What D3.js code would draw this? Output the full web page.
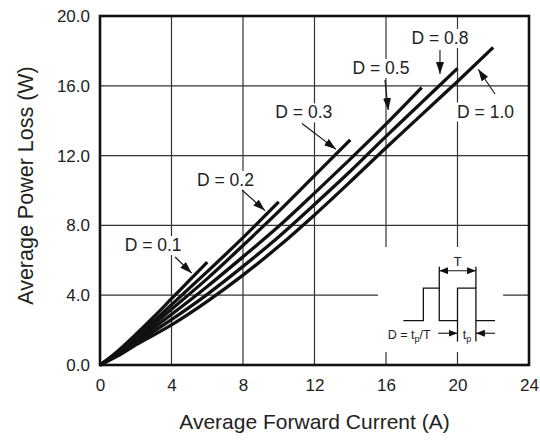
<!DOCTYPE html>
<html>
<head>
<meta charset="utf-8">
<script src="https://cdn.jsdelivr.net/npm/d3@7"></script>
<style>
  html, body { margin: 0; padding: 0; background: #fff; }
  svg { display: block; font-family: "Liberation Sans", Arial, Helvetica, sans-serif; }
</style>
</head>
<body>
<svg id="chart" width="540" height="440"></svg>
<script>
// ---------- data ----------
const dutyLabels = ["D = 0.1", "D = 0.2", "D = 0.3", "D = 0.5", "D = 0.8", "D = 1.0"];
const currentD01 = [0, 0.5, 1, 2, 3, 4, 5, 6];
const powerD01   = [0, 0.38, 0.8, 1.75, 2.75, 3.8, 4.85, 5.9];
const currentD02 = [0, 1, 2, 4, 6, 8, 10];
const powerD02   = [0, 0.72, 1.6, 3.45, 5.35, 7.3, 9.35];
const currentD03 = [0, 1, 2, 4, 6, 8, 10, 12, 14];
const powerD03   = [0, 0.68, 1.5, 3.2, 4.95, 6.85, 8.8, 10.85, 12.9];
const currentD05 = [0, 1, 2, 4, 6, 8, 10, 12, 14, 16, 18];
const powerD05   = [0, 0.62, 1.38, 2.9, 4.5, 6.2, 7.95, 9.85, 11.8, 13.8, 15.9];
const currentD08 = [0, 1, 2, 4, 6, 8, 10, 12, 14, 16, 18, 20];
const powerD08   = [0, 0.58, 1.27, 2.6, 4.05, 5.65, 7.35, 9.2, 11.1, 13.1, 15.05, 17.0];
const currentD10 = [0, 1, 2, 4, 6, 8, 10, 12, 14, 16, 18, 20, 22];
const powerD10   = [0, 0.52, 1.15, 2.3, 3.65, 5.15, 6.8, 8.6, 10.5, 12.45, 14.35, 16.25, 18.2];
const xTicks = [0, 4, 8, 12, 16, 20, 24];
const yTicks = [0, 4, 8, 12, 16, 20];
const xTitle = "Average Forward Current (A)";
const yTitle = "Average Power Loss (W)";

const series = [
  [currentD01, powerD01], [currentD02, powerD02], [currentD03, powerD03],
  [currentD05, powerD05], [currentD08, powerD08], [currentD10, powerD10]
].map(([xs, ys], i) => ({ name: dutyLabels[i], pts: xs.map((v, j) => [v, ys[j]]) }));

// ---------- layout ----------
const svg = d3.select("#chart");
const pL = 100, pR = 529, pT = 16, pB = 365;
const x = d3.scaleLinear().domain([0, 24]).range([pL, pR]);
const y = d3.scaleLinear().domain([0, 20]).range([pB, pT]);

// annotation layout (in data units, placed through scales)
const annot = [
  { tx: 2.97, ty: 6.53, ax: [4.2, 6.19], tip: [5.13, 5.26] },
  { tx: 7.02, ty: 10.26, ax: [7.94, 10.03], tip: [9.23, 8.85] },
  { tx: 11.4, ty: 14.13, ax: [11.3, 13.84], tip: [13.2, 12.36] },
  { tx: 15.72, ty: 16.68, ax: [15.94, 16.33], tip: [16.13, 14.61] },
  { tx: 19.02, ty: 18.4, ax: [19.02, 18.05], tip: [19.02, 16.68] },
  { tx: 21.57, ty: 14.18, ax: [22.1, 15.53], tip: [21.16, 16.95] }
];

// markers
const defs = svg.append("defs");
defs.append("marker").attr("id", "ah")
  .attr("viewBox", "0 0 12 8").attr("refX", 12).attr("refY", 4)
  .attr("markerWidth", 12).attr("markerHeight", 8)
  .attr("markerUnits", "userSpaceOnUse").attr("orient", "auto")
  .append("path").attr("d", "M0,0 L12,4 L0,8 Z").attr("fill", "#111");
defs.append("marker").attr("id", "ahs")
  .attr("viewBox", "0 0 9 7").attr("refX", 9).attr("refY", 3.5)
  .attr("markerWidth", 9).attr("markerHeight", 7)
  .attr("markerUnits", "userSpaceOnUse").attr("orient", "auto-start-reverse")
  .append("path").attr("d", "M0,0 L9,3.5 L0,7 Z").attr("fill", "#111");

// grid
const grid = svg.append("g").attr("stroke", "#333").attr("stroke-width", 1.2);
grid.selectAll(".vx").data(xTicks.slice(1, -1)).join("line")
  .attr("x1", d => x(d)).attr("x2", d => x(d)).attr("y1", pT).attr("y2", pB);
grid.selectAll(".hy").data(yTicks.slice(1, -1)).join("line")
  .attr("y1", d => y(d)).attr("y2", d => y(d)).attr("x1", pL).attr("x2", pR);

// white masks for labels
const labelFont = 17.5;
const labelG = svg.append("g");
const tmp = svg.append("text").attr("font-size", labelFont).text("D = 0.1");
const tw = tmp.node().getComputedTextLength();
tmp.remove();
labelG.selectAll("rect").data(annot).join("rect")
  .attr("x", d => x(d.tx) - tw / 2 - 2).attr("y", d => y(d.ty) - 15)
  .attr("width", tw + 4).attr("height", 19).attr("fill", "#fff");

// inset background
svg.append("rect").attr("x", x(15.55)).attr("y", y(6.76))
  .attr("width", x(22.55) - x(15.55)).attr("height", y(0.745) - y(6.76)).attr("fill", "#fff");

// curves
const line = d3.line().x(d => x(d[0])).y(d => y(d[1])).curve(d3.curveMonotoneX);
svg.append("g").selectAll("path").data(series).join("path")
  .attr("d", d => line(d.pts)).attr("fill", "none")
  .attr("stroke", "#111").attr("stroke-width", 3.3).attr("stroke-linecap", "butt");

// annotations
const ag = svg.append("g");
ag.selectAll("line").data(annot).join("line")
  .attr("x1", d => x(d.ax[0])).attr("y1", d => y(d.ax[1]))
  .attr("x2", d => x(d.tip[0])).attr("y2", d => y(d.tip[1]))
  .attr("stroke", "#111").attr("stroke-width", 1.1).attr("marker-end", "url(#ah)");
ag.selectAll("text").data(annot).join("text")
  .attr("x", d => x(d.tx)).attr("y", d => y(d.ty))
  .attr("text-anchor", "middle").attr("font-size", labelFont).attr("fill", "#222")
  .text((d, i) => dutyLabels[i]);

// inset waveform
const ins = svg.append("g").attr("stroke", "#111").attr("fill", "none").attr("stroke-width", 1.3);
const hi = y(4.4), lo = y(2.54);
const xr1 = x(18.09), xf1 = x(18.98), xr2 = x(20.0), xf2 = x(21.03);
ins.append("path").attr("d",
  `M${x(16.97)},${lo} H${xr1} V${hi} H${xf1} V${lo} H${xr2} V${hi} H${xf2} V${lo} H${x(22.1)}`);
ins.append("line").attr("x1", xf1).attr("x2", xf1).attr("y1", y(5.63)).attr("y2", hi);
ins.append("line").attr("x1", xf2).attr("x2", xf2).attr("y1", y(5.63)).attr("y2", hi);
ins.append("line").attr("x1", xr2).attr("x2", xr2).attr("y1", lo).attr("y2", y(1.34));
ins.append("line").attr("x1", xf2).attr("x2", xf2).attr("y1", lo).attr("y2", y(1.34));
// T arrow (double headed)
ins.append("line").attr("x1", xf1).attr("x2", xf2).attr("y1", y(5.4)).attr("y2", y(5.4))
  .attr("stroke-width", 1.1).attr("marker-start", "url(#ahs)").attr("marker-end", "url(#ahs)");
// tp arrows
ins.append("line").attr("x1", x(18.92)).attr("x2", xr2).attr("y1", y(1.82)).attr("y2", y(1.82))
  .attr("stroke-width", 1.1).attr("marker-end", "url(#ahs)");
ins.append("line").attr("x1", x(22.1)).attr("x2", xf2).attr("y1", y(1.82)).attr("y2", y(1.82))
  .attr("stroke-width", 1.1).attr("marker-end", "url(#ahs)");
const it = svg.append("g").attr("fill", "#222").attr("font-size", 13.5);
it.append("text").attr("x", (xf1 + xf2) / 2).attr("y", y(5.7)).attr("text-anchor", "middle").text("T");
const dt = it.append("text").attr("x", x(18.5)).attr("y", y(1.5)).attr("text-anchor", "end").attr("font-size", 12.5);
dt.append("tspan").text("D = t");
dt.append("tspan").attr("font-size", 9).attr("dy", 3).text("p");
dt.append("tspan").attr("dy", -3).text("/T");
const tpT = it.append("text").attr("x", (xr2 + xf2) / 2 - 4).attr("y", y(1.5)).attr("font-size", 12.5);
tpT.append("tspan").text("t");
tpT.append("tspan").attr("font-size", 9).attr("dy", 3).text("p");

// axes (labels only)
const xAxis = d3.axisBottom(x).tickValues(xTicks).tickSize(0).tickPadding(14).tickFormat(d3.format("d"));
const yAxis = d3.axisLeft(y).tickValues(yTicks).tickSize(0).tickPadding(10).tickFormat(d3.format(".1f"));
const gx = svg.append("g").attr("transform", `translate(0,${pB})`).call(xAxis);
const gy = svg.append("g").attr("transform", `translate(${pL},0)`).call(yAxis);
[gx, gy].forEach(g => {
  g.select(".domain").remove();
  g.selectAll("text").attr("font-size", 17).attr("fill", "#222")
    .attr("font-family", "'Liberation Sans', Arial, sans-serif");
});

// frame
svg.append("rect").attr("x", pL).attr("y", pT).attr("width", pR - pL).attr("height", pB - pT)
  .attr("fill", "none").attr("stroke", "#111").attr("stroke-width", 2.6);

// titles
svg.append("text").attr("x", (pL + pR) / 2).attr("y", 429).attr("text-anchor", "middle")
  .attr("font-size", 21).attr("fill", "#222").text(xTitle);
svg.append("text").attr("transform", `translate(33,${(pT + pB) / 2 - 5}) rotate(-90)`)
  .attr("text-anchor", "middle").attr("font-size", 21.5).attr("fill", "#222").text(yTitle);
</script>
</body>
</html>
